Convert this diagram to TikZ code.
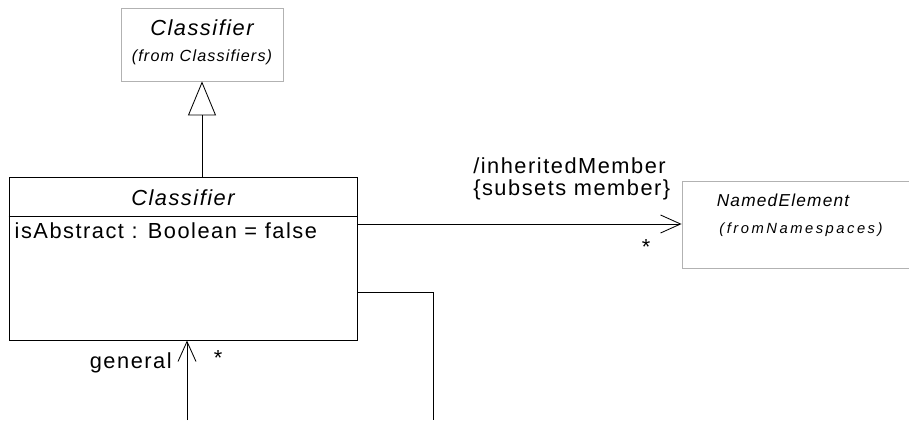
\documentclass[tikz,border=0pt]{standalone}
\usepackage{fontspec}
\setsansfont{Liberation Sans}[LetterSpace=7]
\usetikzlibrary{arrows.meta,positioning,calc}

\begin{document}
\begin{tikzpicture}[
    font=\sffamily\fontsize{15.5}{18}\selectfont,
    >=Latex,
    classbox/.style={draw, line width=0.7pt, minimum width=8.7cm, minimum height=4.075cm, inner sep=0pt},
    extbox/.style={draw=black!30, line width=0.6pt, inner sep=0pt},
    nametext/.style={font=\sffamily\itshape\fontsize{15.5}{18}\selectfont, inner sep=0pt},
    fromtext/.style={font=\sffamily\itshape\fontsize{11.5}{13}\selectfont, inner sep=0pt},
    roletext/.style={inner sep=0pt},
    inherit/.style={-{Triangle[open, length=0.85cm, width=0.7cm]}, line width=0.6pt},
    assoc/.style={->, >={Straight Barb[length=0.5cm, width=0.45cm]}, line width=0.6pt}
]
\clip (0,0) rectangle (22.725,10.5);

% Superclass from the Classifiers package
\node[extbox, minimum width=4.05cm, minimum height=1.825cm] (superclass) at (5.05,9.3875) {};
\node[nametext] (superclassname) at (5.05,9.8) {Classifier};
\node[fromtext] (superclassfrom) at (5.05,9.075) {(from Classifiers)};

% Classifier class
\node[classbox] (classifier) at (4.575,4.0375) {};
\node[nametext] (classifiername) at (4.575,5.55) {Classifier};
\coordinate (divider) at (0,5.1);
\draw[line width=0.6pt] (classifier.west |- divider) -- (classifier.east |- divider);
\node[roletext, anchor=west] (isabstract) at (0.36,4.725) {isAbstract : Boolean = false};

% NamedElement from the Namespaces package
\node[extbox, minimum width=5.95cm, minimum height=2.175cm] (namedelem) at (20.025,4.8875) {};
\node[nametext, font=\sffamily\itshape\fontsize{12.3}{15}\selectfont] (namedelemname) at (19.575,5.5) {NamedElement};
\node[fromtext, font=\sffamily\itshape\fontsize{10.5}{12}\selectfont\addfontfeatures{LetterSpace=17}] (namedelemfrom) at (20.025,4.75) {(fromNamespaces)};

% Generalization
\draw[inherit] (classifier.north -| superclass) -- (superclass.south);

% inheritedMember association
\coordinate (assocrow) at (0,4.9);
\draw[assoc] (classifier.east |- assocrow) -- (namedelem.west |- assocrow);
\node[roletext, anchor=west] (inheritedmember) at (11.825,6.35) {/inheritedMember};
\node[roletext, anchor=west] (subsetsmember) at (11.825,5.75) {\{subsets member\}};
\node[roletext] (inheritedmult) at (16.15,4.325) {*};

% general association (self)
\coordinate (looprow) at (0,3.2);
\coordinate (loopright) at (10.825,0);
\coordinate (loopleft) at (4.675,0);
\draw[line width=0.6pt] (classifier.east |- looprow) -| (loopright);
\draw[assoc] (loopleft) -- (loopleft |- classifier.south);
\node[roletext, anchor=east] (general) at (4.3,1.425) {general};
\node[roletext] (generalmult) at (5.45,1.55) {*};

\end{tikzpicture}
\end{document}
